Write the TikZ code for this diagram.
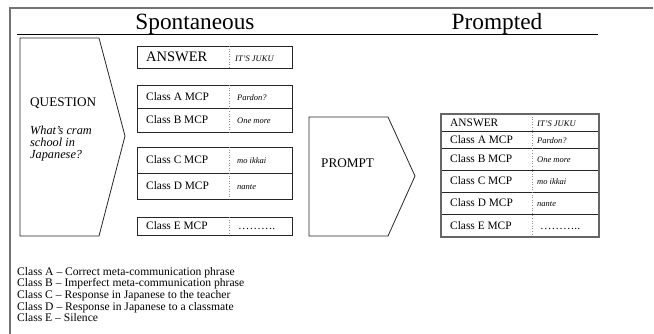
\documentclass[tikz,border=0pt]{standalone}
\usepackage{fontspec}
\setmainfont{Liberation Serif}
\begin{document}
\begin{tikzpicture}[x=1pt,y=-1pt,
  frameline/.style={draw=black!55, line width=1.4pt},
  headline/.style={draw=black, line width=0.9pt},
  head/.style={anchor=base, inner sep=0pt, font=\fontsize{23.3}{26}\selectfont},
  shapeline/.style={draw=black!85, line width=0.8pt},
  cellbox/.style={draw=black!85, line width=0.8pt},
  tableframe/.style={draw=black!60, line width=1.2pt},
  divider/.style={draw=black!45, dotted, line width=0.6pt},
  big/.style={anchor=base west, inner sep=0pt, font=\fontsize{13.2}{15}\selectfont},
  qit/.style={anchor=base west, inner sep=0pt, font=\fontsize{12.3}{14}\selectfont\itshape},
  lbl/.style={anchor=base west, inner sep=0pt, font=\fontsize{11.4}{13}\selectfont},
  ans/.style={anchor=base west, inner sep=0pt, font=\fontsize{14.5}{16}\selectfont},
  ex/.style={anchor=base west, inner sep=0pt, font=\fontsize{8.5}{10}\selectfont\itshape},
  dotsty/.style={anchor=base west, inner sep=0pt, font=\fontsize{11.4}{13}\selectfont},
  legend/.style={anchor=base west, inner sep=0pt, font=\fontsize{11.6}{12}\selectfont},
]
\useasboundingbox (0,0) rectangle (654,334);
% outer frame
\draw[frameline] (10,334) -- (10,8) -- (653,8);
% headings
\node[head] (spont) at (195,30) {Spontaneous};
\node[head] (prmpt) at (497,30) {Prompted};
\draw[headline] (17,34) -- (598,34);

% QUESTION pentagon
\draw[shapeline] (20,38) -- (99,38) -- (125,136) -- (99,236) -- (20,236) -- cycle;
\node[big] (question) at (30,107) {QUESTION};
\node[qit] (q1) at (30,135) {What’s cram};
\node[qit] (q2) at (30,147) {school in};
\node[qit] (q3) at (30,159) {Japanese?};

% Spontaneous boxes
\draw[cellbox] (137,46) rectangle (292,68);
\draw[divider] (229,46) -- (229,68);
\node[ans] (sans) at (146,61.8) {ANSWER};
\node[ex] (sansx) at (235,61.5) {IT’S JUKU};

\draw[cellbox] (137,85) rectangle (292,132);
\draw[cellbox] (137,108) -- (292,108);
\draw[divider] (229,85) -- (229,132);
\node[lbl] (sa) at (146,100.3) {Class A MCP};
\node[ex] (sax) at (237,100.3) {Pardon?};
\node[lbl] (sb) at (146,123.8) {Class B MCP};
\node[ex] (sbx) at (237,123.8) {One more};

\draw[cellbox] (137,147) rectangle (292,199);
\draw[cellbox] (137,173) -- (292,173);
\draw[divider] (229,147) -- (229,199);
\node[lbl] (sc) at (146,163.8) {Class C MCP};
\node[ex] (scx) at (237,163.8) {mo ikkai};
\node[lbl] (sd) at (146,189.8) {Class D MCP};
\node[ex] (sdx) at (237,189.8) {nante};

\draw[cellbox] (137,217) rectangle (292,235);
\draw[divider] (229,217) -- (229,235);
\node[lbl] (se) at (146,229.8) {Class E MCP};
\node[dotsty] (sex) at (238,229.8) {……….};

% PROMPT pentagon
\draw[shapeline] (309,117) -- (388,117) -- (415,176) -- (388,236) -- (309,236) -- cycle;
\node[big] (promptlbl) at (321,167.5) {PROMPT};

% Prompted table
\draw[cellbox] (441,131) -- (599,131);
\draw[cellbox] (441,148) -- (599,148);
\draw[cellbox] (441,170) -- (599,170);
\draw[cellbox] (441,192) -- (599,192);
\draw[cellbox] (441,214) -- (599,214);
\draw[divider] (532,114) -- (532,237);
\draw[tableframe] (441,114) rectangle (599,237);
\node[lbl] (pans) at (450,126.3) {ANSWER};
\node[ex] (pansx) at (537,126.3) {IT’S JUKU};
\node[lbl] (pa) at (450,143.3) {Class A MCP};
\node[ex] (pax) at (537,143.3) {Pardon?};
\node[lbl] (pb) at (450,162.8) {Class B MCP};
\node[ex] (pbx) at (537,162.8) {One more};
\node[lbl] (pc) at (450,184.8) {Class C MCP};
\node[ex] (pcx) at (537,184.8) {mo ikkai};
\node[lbl] (pd) at (450,206.8) {Class D MCP};
\node[ex] (pdx) at (537,206.8) {nante};
\node[lbl] (pe) at (450,229.3) {Class E MCP};
\node[dotsty] (pex) at (540,229.3) {………..};

% legend
\node[legend] (la) at (17,275.5) {Class A – Correct meta-communication phrase};
\node[legend] (lb) at (17,287) {Class B – Imperfect meta-communication phrase};
\node[legend] (lc) at (17,298.5) {Class C – Response in Japanese to the teacher};
\node[legend] (ld) at (17,310) {Class D – Response in Japanese to a classmate};
\node[legend] (le) at (17,321.5) {Class E – Silence};
\end{tikzpicture}
\end{document}
